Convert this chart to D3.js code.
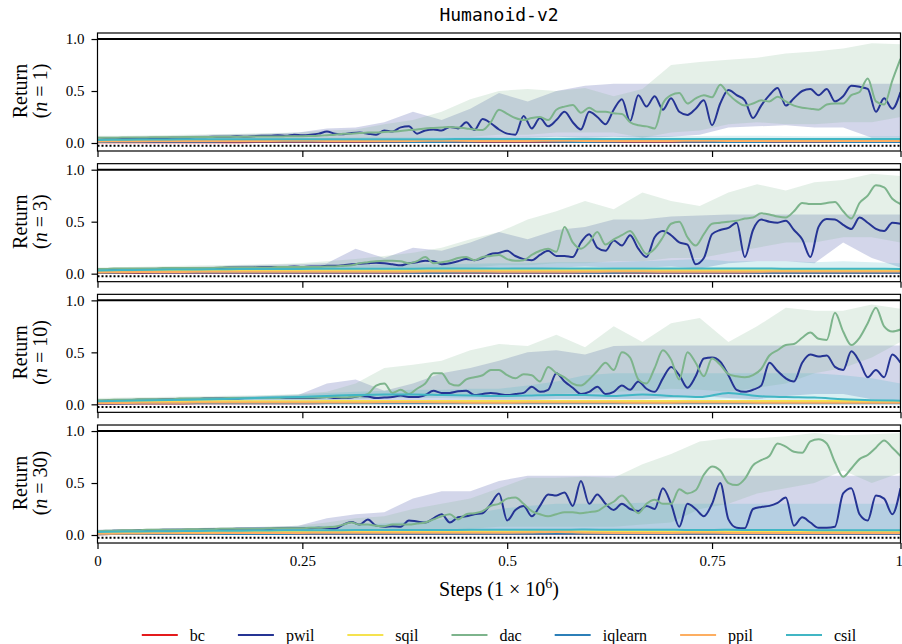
<!DOCTYPE html>
<html>
<head>
<meta charset="utf-8">
<script src="https://cdn.jsdelivr.net/npm/d3@7"></script>
<style>
  body { margin: 0; background: #fff; }
  svg { display: block; }
</style>
</head>
<body>
<div id="chart"></div>
<script>
// ---- data ----
var methods = ["bc", "pwil", "sqil", "dac", "iqlearn", "ppil", "csil"];
var methodColors = ["#e41a1c", "#253494", "#f5e24f", "#7db48c", "#2c7fb8", "#fdae61", "#41b6c4"];
var demoCounts = ["1", "3", "10", "30"];
var xTickValues = [0, 0.25, 0.5, 0.75, 0.98];
var xTickLabels = ["0", "0.25", "0.5", "0.75", "1"];
var yTickValues = [0, 0.5, 1];
var expertReturn = 1.0;
var randomReturn = -0.026;

// x grids: means of pwil / dac every 0.01, everything else every 0.035
var fineSteps = d3.range(99).map(function(i) { return i / 100; });
var coarseSteps = d3.range(29).map(function(i) { return i * 0.035; });

// one row per panel (n = 1, 3, 10, 30)
var pwilMean = [
  [0.03,0.035,0.035,0.04,0.04,0.04,0.045,0.045,0.045,0.05,0.05,0.05,0.055,0.055,0.06,0.06,0.06,0.065,0.06,0.065,0.07,0.07,0.075,0.07,0.08,0.075,
   0.08,0.09,0.11,0.09,0.085,0.095,0.1,0.09,0.08,0.12,0.11,0.15,0.16,0.09,0.12,0.13,0.12,0.155,0.14,0.2,0.125,0.23,0.19,0.13,
   0.09,0.08,0.26,0.14,0.24,0.16,0.22,0.3,0.2,0.13,0.3,0.25,0.18,0.32,0.42,0.21,0.46,0.35,0.45,0.32,0.43,0.3,0.27,0.33,0.41,
   0.17,0.38,0.51,0.46,0.41,0.24,0.36,0.46,0.53,0.36,0.43,0.5,0.52,0.46,0.52,0.4,0.45,0.55,0.54,0.52,0.3,0.43,0.33,0.49],
  [0.03,0.035,0.035,0.04,0.04,0.04,0.045,0.045,0.045,0.05,0.05,0.05,0.05,0.055,0.055,0.055,0.06,0.06,0.06,0.06,0.065,0.065,0.065,0.065,0.07,0.065,
   0.07,0.07,0.075,0.075,0.08,0.09,0.095,0.1,0.105,0.1,0.09,0.08,0.1,0.11,0.125,0.12,0.09,0.1,0.12,0.14,0.13,0.15,0.19,0.2,
   0.22,0.17,0.14,0.13,0.18,0.22,0.17,0.17,0.16,0.3,0.38,0.25,0.22,0.32,0.27,0.37,0.24,0.16,0.35,0.41,0.37,0.3,0.28,0.09,0.15,
   0.38,0.42,0.44,0.49,0.16,0.42,0.52,0.5,0.49,0.51,0.42,0.33,0.16,0.45,0.525,0.52,0.47,0.43,0.54,0.49,0.43,0.41,0.49,0.48],
  [0.03,0.035,0.04,0.04,0.04,0.045,0.045,0.045,0.05,0.05,0.05,0.05,0.05,0.055,0.055,0.055,0.055,0.055,0.06,0.06,0.06,0.06,0.06,0.06,0.06,0.06,
   0.06,0.065,0.07,0.06,0.06,0.065,0.08,0.075,0.06,0.065,0.07,0.085,0.07,0.07,0.09,0.13,0.11,0.11,0.125,0.13,0.09,0.1,0.11,0.1,
   0.09,0.1,0.11,0.17,0.12,0.14,0.3,0.22,0.16,0.1,0.12,0.17,0.1,0.12,0.18,0.14,0.22,0.15,0.12,0.25,0.36,0.28,0.16,0.27,0.44,
   0.45,0.41,0.28,0.14,0.12,0.14,0.18,0.4,0.32,0.25,0.22,0.4,0.48,0.46,0.47,0.36,0.33,0.51,0.41,0.26,0.33,0.26,0.48,0.4],
  [0.03,0.035,0.04,0.04,0.04,0.045,0.045,0.045,0.05,0.05,0.05,0.05,0.05,0.055,0.055,0.055,0.055,0.06,0.06,0.06,0.06,0.06,0.065,0.065,0.065,0.065,
   0.065,0.07,0.065,0.06,0.1,0.125,0.1,0.15,0.09,0.08,0.085,0.08,0.14,0.13,0.12,0.16,0.2,0.12,0.17,0.18,0.2,0.21,0.3,0.4,
   0.14,0.24,0.28,0.18,0.28,0.39,0.38,0.41,0.28,0.52,0.3,0.39,0.3,0.24,0.3,0.25,0.23,0.28,0.25,0.45,0.3,0.08,0.3,0.25,0.18,
   0.3,0.5,0.15,0.07,0.065,0.25,0.27,0.28,0.31,0.36,0.09,0.17,0.12,0.07,0.07,0.08,0.4,0.45,0.2,0.14,0.38,0.35,0.2,0.45]
];

var dacMean = [
  [0.05,0.05,0.05,0.052,0.052,0.054,0.054,0.055,0.055,0.056,0.056,0.057,0.058,0.058,0.058,0.06,0.06,0.06,0.06,0.062,0.062,0.063,0.063,0.064,0.065,0.065,
   0.067,0.07,0.075,0.08,0.09,0.09,0.095,0.1,0.1,0.105,0.11,0.115,0.125,0.13,0.14,0.145,0.15,0.155,0.15,0.14,0.13,0.125,0.2,0.32,
   0.28,0.24,0.22,0.24,0.25,0.22,0.32,0.35,0.365,0.29,0.34,0.3,0.3,0.285,0.28,0.2,0.17,0.16,0.14,0.38,0.46,0.48,0.38,0.43,0.46,
   0.44,0.56,0.47,0.4,0.36,0.38,0.41,0.4,0.445,0.4,0.36,0.34,0.33,0.32,0.37,0.38,0.38,0.46,0.49,0.62,0.4,0.37,0.6,0.81],
  [0.045,0.045,0.05,0.05,0.05,0.05,0.05,0.05,0.055,0.055,0.055,0.055,0.055,0.055,0.055,0.06,0.06,0.06,0.06,0.06,0.06,0.06,0.065,0.065,0.065,0.065,
   0.065,0.065,0.07,0.07,0.075,0.08,0.1,0.11,0.12,0.125,0.125,0.12,0.1,0.12,0.16,0.1,0.11,0.125,0.15,0.16,0.13,0.16,0.17,0.18,
   0.14,0.125,0.13,0.18,0.22,0.24,0.21,0.45,0.3,0.24,0.3,0.4,0.28,0.33,0.37,0.41,0.3,0.19,0.24,0.35,0.48,0.5,0.35,0.27,0.38,
   0.48,0.49,0.5,0.51,0.53,0.54,0.58,0.57,0.55,0.54,0.6,0.68,0.67,0.67,0.68,0.69,0.6,0.53,0.68,0.75,0.85,0.83,0.72,0.67],
  [0.04,0.04,0.045,0.045,0.045,0.05,0.05,0.05,0.05,0.05,0.055,0.055,0.055,0.055,0.055,0.055,0.06,0.06,0.06,0.06,0.06,0.06,0.06,0.065,0.065,0.065,
   0.065,0.065,0.07,0.07,0.065,0.07,0.08,0.1,0.18,0.2,0.11,0.14,0.1,0.15,0.2,0.3,0.3,0.2,0.18,0.24,0.26,0.28,0.33,0.33,
   0.28,0.25,0.29,0.28,0.22,0.36,0.3,0.26,0.2,0.18,0.24,0.32,0.4,0.33,0.5,0.45,0.24,0.2,0.35,0.52,0.43,0.24,0.5,0.4,0.27,
   0.44,0.38,0.29,0.27,0.26,0.28,0.34,0.47,0.52,0.57,0.58,0.64,0.69,0.63,0.62,0.88,0.7,0.57,0.64,0.78,0.93,0.75,0.7,0.72],
  [0.035,0.04,0.04,0.045,0.045,0.045,0.05,0.05,0.05,0.05,0.05,0.055,0.055,0.055,0.055,0.06,0.06,0.06,0.06,0.06,0.06,0.065,0.065,0.065,0.065,0.065,
   0.07,0.07,0.075,0.08,0.1,0.12,0.1,0.1,0.09,0.085,0.1,0.1,0.1,0.11,0.12,0.15,0.18,0.2,0.15,0.2,0.21,0.23,0.28,0.3,
   0.35,0.36,0.3,0.23,0.2,0.18,0.2,0.22,0.22,0.21,0.22,0.23,0.28,0.32,0.38,0.3,0.21,0.3,0.34,0.3,0.3,0.44,0.4,0.43,0.58,
   0.66,0.62,0.5,0.48,0.54,0.67,0.72,0.76,0.88,0.85,0.8,0.79,0.9,0.92,0.88,0.7,0.56,0.64,0.73,0.77,0.84,0.91,0.84,0.76]
];

var pwilHi = [
  [0.06,0.06,0.065,0.07,0.08,0.085,0.09,0.1,0.14,0.15,0.2,0.3,0.22,0.33,0.48,0.4,0.5,0.55,0.57,0.57,0.57,0.57,0.57,0.57,0.57,0.57,0.57,0.57,0.57],
  [0.05,0.055,0.06,0.065,0.07,0.08,0.085,0.09,0.1,0.24,0.15,0.25,0.22,0.3,0.4,0.33,0.42,0.45,0.52,0.52,0.55,0.56,0.57,0.57,0.57,0.57,0.57,0.57,0.57],
  [0.05,0.055,0.06,0.065,0.07,0.075,0.08,0.09,0.2,0.24,0.13,0.2,0.3,0.35,0.42,0.5,0.52,0.48,0.56,0.565,0.565,0.565,0.565,0.565,0.565,0.565,0.565,0.565,0.565],
  [0.05,0.055,0.06,0.065,0.07,0.075,0.08,0.09,0.16,0.2,0.22,0.35,0.42,0.42,0.52,0.57,0.57,0.57,0.57,0.57,0.57,0.57,0.57,0.57,0.57,0.57,0.57,0.57,0.57]
];
var pwilLo = [
  [0.01,0.015,0.02,0.02,0.025,0.025,0.03,0.03,0.03,0.03,0.035,0.04,0.04,0.045,0.05,0.05,0.06,0.05,0.06,0.05,0.06,0.08,0.15,0.16,0.17,0.15,0.15,0.05,0.05],
  [0.01,0.015,0.02,0.02,0.025,0.025,0.03,0.03,0.035,0.04,0.04,0.04,0.04,0.05,0.06,0.05,0.06,0.07,0.06,0.06,0.07,0.05,0.1,0.12,0.12,0.1,0.3,0.15,0.06],
  [0.01,0.015,0.02,0.02,0.025,0.025,0.03,0.03,0.03,0.03,0.035,0.035,0.04,0.04,0.04,0.04,0.05,0.05,0.05,0.05,0.06,0.08,0.06,0.05,0.08,0.1,0.1,0.05,0.04],
  [0.01,0.015,0.02,0.02,0.02,0.025,0.025,0.03,0.03,0.03,0.03,0.03,0.035,0.035,0.04,0.04,0.04,0.04,0.04,0.04,0.03,0.03,0.03,0.03,0.03,0.03,0.03,0.03,0.03]
];
var dacHi = [
  [0.07,0.07,0.075,0.08,0.085,0.09,0.095,0.1,0.12,0.13,0.18,0.22,0.3,0.42,0.5,0.52,0.5,0.53,0.45,0.52,0.75,0.78,0.8,0.82,0.86,0.88,0.91,0.96,0.95],
  [0.06,0.065,0.07,0.075,0.08,0.085,0.09,0.1,0.12,0.14,0.17,0.2,0.25,0.33,0.4,0.52,0.6,0.7,0.62,0.78,0.7,0.65,0.78,0.86,0.8,0.88,0.9,0.96,0.94],
  [0.06,0.065,0.07,0.075,0.08,0.085,0.09,0.1,0.12,0.2,0.35,0.38,0.42,0.52,0.58,0.56,0.67,0.55,0.75,0.6,0.78,0.83,0.6,0.75,0.93,0.9,0.9,0.96,0.92],
  [0.05,0.055,0.06,0.065,0.07,0.075,0.08,0.09,0.12,0.16,0.18,0.25,0.3,0.35,0.45,0.55,0.55,0.56,0.55,0.68,0.78,0.9,0.93,0.93,0.95,0.98,0.96,0.97,0.98]
];
var dacLo = [
  [0.03,0.03,0.03,0.035,0.035,0.035,0.04,0.04,0.04,0.04,0.05,0.05,0.06,0.06,0.08,0.08,0.1,0.1,0.1,0.05,0.1,0.12,0.18,0.2,0.18,0.18,0.2,0.2,0.25],
  [0.03,0.03,0.03,0.035,0.035,0.035,0.04,0.04,0.04,0.04,0.05,0.05,0.05,0.06,0.08,0.08,0.1,0.1,0.12,0.12,0.15,0.15,0.2,0.25,0.3,0.3,0.35,0.35,0.3],
  [0.03,0.03,0.03,0.035,0.035,0.035,0.04,0.04,0.04,0.05,0.06,0.07,0.08,0.09,0.1,0.1,0.1,0.11,0.12,0.13,0.15,0.14,0.12,0.16,0.2,0.3,0.35,0.45,0.6],
  [0.02,0.02,0.025,0.025,0.03,0.03,0.03,0.035,0.035,0.04,0.04,0.045,0.05,0.06,0.08,0.08,0.08,0.08,0.08,0.1,0.12,0.25,0.3,0.4,0.45,0.5,0.62,0.5,0.6]
];

var csilMean = [
  [0.03,0.032,0.034,0.035,0.035,0.035,0.036,0.036,0.036,0.036,0.037,0.037,0.037,0.038,0.038,0.038,0.038,0.038,0.038,0.038,0.038,0.038,0.038,0.038,0.038,0.038,0.038,0.038,0.038],
  [0.03,0.035,0.038,0.04,0.042,0.044,0.045,0.046,0.047,0.048,0.048,0.048,0.049,0.049,0.05,0.05,0.05,0.05,0.05,0.05,0.05,0.05,0.05,0.05,0.048,0.048,0.047,0.047,0.046],
  [0.03,0.035,0.04,0.045,0.05,0.055,0.065,0.07,0.08,0.09,0.095,0.095,0.09,0.085,0.08,0.085,0.09,0.09,0.08,0.095,0.08,0.07,0.11,0.08,0.07,0.065,0.05,0.04,0.035],
  [0.03,0.033,0.036,0.038,0.04,0.042,0.044,0.045,0.046,0.047,0.048,0.048,0.048,0.05,0.05,0.05,0.05,0.052,0.05,0.05,0.05,0.048,0.05,0.048,0.048,0.046,0.046,0.045,0.045]
];
var csilHi = [
  [0.045,0.048,0.05,0.05,0.05,0.05,0.05,0.05,0.05,0.052,0.055,0.056,0.058,0.06,0.06,0.062,0.065,0.065,0.066,0.068,0.068,0.068,0.07,0.07,0.068,0.066,0.066,0.066,0.066],
  [0.045,0.05,0.055,0.06,0.062,0.065,0.068,0.07,0.075,0.08,0.085,0.09,0.09,0.095,0.1,0.1,0.11,0.11,0.11,0.12,0.13,0.14,0.12,0.12,0.12,0.11,0.12,0.11,0.1],
  [0.045,0.05,0.055,0.06,0.07,0.075,0.085,0.095,0.11,0.12,0.13,0.14,0.14,0.15,0.15,0.18,0.22,0.28,0.3,0.3,0.3,0.3,0.3,0.3,0.3,0.3,0.28,0.25,0.2],
  [0.045,0.05,0.055,0.06,0.065,0.07,0.075,0.08,0.09,0.1,0.11,0.13,0.15,0.2,0.25,0.28,0.3,0.3,0.3,0.31,0.3,0.3,0.3,0.3,0.3,0.3,0.3,0.3,0.3]
];
var csilLo = [
  [0.02,0.02,0.021,0.022,0.022,0.022,0.023,0.023,0.023,0.024,0.024,0.024,0.024,0.025,0.025,0.025,0.025,0.025,0.025,0.025,0.025,0.025,0.025,0.025,0.025,0.025,0.025,0.025,0.025],
  [0.02,0.022,0.024,0.025,0.026,0.027,0.028,0.028,0.029,0.03,0.03,0.03,0.03,0.03,0.03,0.03,0.03,0.03,0.03,0.03,0.03,0.03,0.03,0.03,0.03,0.03,0.03,0.03,0.03],
  [0.02,0.022,0.025,0.03,0.035,0.04,0.045,0.05,0.05,0.055,0.06,0.06,0.06,0.055,0.05,0.05,0.05,0.05,0.05,0.05,0.05,0.04,0.05,0.04,0.04,0.035,0.03,0.025,0.02],
  [0.02,0.022,0.024,0.025,0.026,0.027,0.028,0.028,0.029,0.03,0.03,0.03,0.03,0.03,0.03,0.03,0.03,0.03,0.03,0.03,0.03,0.03,0.03,0.03,0.03,0.03,0.03,0.03,0.03]
];

var sqilMean = [
  [0.02,0.022,0.024,0.025,0.025,0.026,0.026,0.027,0.027,0.028,0.028,0.028,0.028,0.029,0.028,0.028,0.029,0.028,0.028,0.028,0.029,0.028,0.028,0.028,0.028,0.028,0.028,0.028,0.028],
  [0.02,0.024,0.026,0.028,0.03,0.03,0.031,0.031,0.032,0.032,0.032,0.033,0.033,0.033,0.034,0.034,0.034,0.034,0.034,0.034,0.033,0.033,0.033,0.033,0.033,0.033,0.033,0.033,0.033],
  [0.02,0.024,0.026,0.028,0.029,0.03,0.03,0.03,0.031,0.031,0.031,0.032,0.032,0.032,0.032,0.032,0.033,0.033,0.032,0.032,0.032,0.032,0.032,0.032,0.032,0.032,0.032,0.032,0.032],
  [0.02,0.024,0.026,0.028,0.03,0.03,0.031,0.031,0.032,0.032,0.033,0.033,0.033,0.034,0.034,0.036,0.045,0.034,0.033,0.033,0.033,0.034,0.033,0.033,0.033,0.033,0.033,0.033,0.033]
];
var ppilMean = [
  [0.015,0.017,0.018,0.019,0.02,0.02,0.02,0.021,0.02,0.02,0.019,0.02,0.021,0.02,0.02,0.02,0.021,0.02,0.02,0.02,0.02,0.021,0.02,0.02,0.02,0.02,0.02,0.02,0.02],
  [0.012,0.014,0.016,0.017,0.018,0.018,0.018,0.019,0.019,0.018,0.018,0.019,0.02,0.02,0.019,0.018,0.018,0.019,0.02,0.02,0.019,0.018,0.018,0.019,0.02,0.02,0.02,0.02,0.02],
  [0.012,0.014,0.015,0.016,0.017,0.017,0.018,0.018,0.018,0.018,0.019,0.02,0.018,0.016,0.016,0.017,0.018,0.018,0.017,0.016,0.016,0.017,0.017,0.016,0.016,0.016,0.016,0.016,0.016],
  [0.012,0.014,0.016,0.017,0.018,0.019,0.02,0.02,0.021,0.021,0.022,0.022,0.022,0.022,0.022,0.024,0.03,0.022,0.02,0.02,0.02,0.021,0.02,0.02,0.02,0.02,0.02,0.02,0.02]
];
var iqlearnMean = [
  [0.01,0.012,0.012,0.013,0.013,0.014,0.014,0.014,0.014,0.014,0.012,0.01,0.01,0.012,0.015,0.015,0.012,0.01,0.012,0.015,0.014,0.012,0.01,0.01,0.012,0.012,0.01,0.01,0.01],
  [0.008,0.01,0.011,0.011,0.012,0.012,0.012,0.012,0.012,0.012,0.011,0.01,0.01,0.011,0.012,0.012,0.011,0.01,0.01,0.011,0.012,0.012,0.011,0.01,0.01,0.01,0.01,0.01,0.01],
  [0.008,0.009,0.01,0.01,0.01,0.01,0.01,0.01,0.01,0.01,0.01,0.01,0.01,0.01,0.01,0.01,0.01,0.01,0.01,0.01,0.01,0.01,0.01,0.01,0.01,0.01,0.01,0.01,0.01],
  [0.008,0.009,0.01,0.01,0.01,0.01,0.01,0.011,0.011,0.011,0.011,0.011,0.011,0.011,0.011,0.011,0.011,0.011,0.011,0.011,0.011,0.011,0.011,0.011,0.011,0.011,0.011,0.011,0.011]
];
var bcMean = [
  [0.006,0.007,0.008,0.008,0.008,0.008,0.009,0.009,0.009,0.009,0.009,0.009,0.009,0.009,0.009,0.009,0.009,0.009,0.009,0.009,0.009,0.009,0.009,0.009,0.009,0.009,0.009,0.009,0.009],
  [0.006,0.007,0.008,0.008,0.008,0.008,0.009,0.009,0.009,0.009,0.009,0.009,0.009,0.009,0.009,0.009,0.009,0.009,0.009,0.009,0.009,0.009,0.009,0.009,0.009,0.009,0.009,0.009,0.009],
  [0.006,0.007,0.008,0.009,0.01,0.01,0.011,0.011,0.012,0.012,0.012,0.013,0.012,0.012,0.012,0.012,0.012,0.012,0.012,0.012,0.012,0.012,0.012,0.012,0.012,0.012,0.012,0.012,0.012],
  [0.008,0.009,0.01,0.011,0.012,0.012,0.013,0.013,0.013,0.013,0.013,0.013,0.013,0.013,0.013,0.013,0.013,0.013,0.013,0.013,0.013,0.013,0.013,0.013,0.013,0.013,0.013,0.013,0.013]
];

// ---- layout ----
var width = 902, height = 644;
var left = 97.5, right = 900.5;
var firstTop = 33, panelStep = 130.67, panelH = 118;
var serif = "'Liberation Serif', 'DejaVu Serif', serif";
var color = d3.scaleOrdinal().domain(methods).range(methodColors);

var svg = d3.select("#chart")
    .append("svg")
    .attr("width", width)
    .attr("height", height);

var x = d3.scaleLinear().domain([0, 0.98]).range([left, right]);

svg.append("text")
    .attr("x", (left + right) / 2)
    .attr("y", 21)
    .attr("text-anchor", "middle")
    .style("font-family", "'DejaVu Sans Mono', monospace")
    .style("font-size", "18px")
    .text("Humanoid-v2");

function rows(xs, ys) {
  return xs.map(function(v, i) { return {x: v, y: ys[i]}; });
}
function bandRows(xs, lo, hi) {
  return xs.map(function(v, i) { return {x: v, lo: lo[i], hi: hi[i]}; });
}

demoCounts.forEach(function(n, p) {
  var top = firstTop + p * panelStep;
  var y = d3.scaleLinear().domain([-0.077, 1.058]).range([top + panelH, top]);

  svg.append("clipPath").attr("id", "clip" + p)
    .append("rect")
    .attr("x", left).attr("y", top)
    .attr("width", right - left).attr("height", panelH);

  var plot = svg.append("g").attr("clip-path", "url(#clip" + p + ")");

  var area = d3.area()
      .x(function(d) { return x(d.x); })
      .y0(function(d) { return y(d.lo); })
      .y1(function(d) { return y(d.hi); });
  var line = d3.line()
      .curve(d3.curveMonotoneX)
      .x(function(d) { return x(d.x); })
      .y(function(d) { return y(d.y); });

  // expert and random reference lines
  plot.append("line")
      .attr("x1", left).attr("x2", right)
      .attr("y1", y(expertReturn)).attr("y2", y(expertReturn))
      .style("stroke", "#000").style("stroke-width", 2);
  plot.append("line")
      .attr("x1", left).attr("x2", right)
      .attr("y1", y(randomReturn)).attr("y2", y(randomReturn))
      .style("stroke", "#000").style("stroke-width", 2)
      .style("stroke-dasharray", "2,2");

  // bands
  var bands = [
    {name: "pwil", d: bandRows(coarseSteps, pwilLo[p], pwilHi[p])},
    {name: "dac", d: bandRows(coarseSteps, dacLo[p], dacHi[p])},
    {name: "csil", d: bandRows(coarseSteps, csilLo[p], csilHi[p])}
  ];
  plot.selectAll("path.band")
      .data(bands)
      .enter()
      .append("path")
      .attr("class", "band")
      .attr("d", function(b) { return area(b.d); })
      .style("fill", function(b) { return color(b.name); })
      .style("fill-opacity", 0.2)
      .style("stroke", "none");

  // mean lines, in legend order
  var series = [
    {name: "bc", d: rows(coarseSteps, bcMean[p])},
    {name: "pwil", d: rows(fineSteps, pwilMean[p])},
    {name: "sqil", d: rows(coarseSteps, sqilMean[p])},
    {name: "dac", d: rows(fineSteps, dacMean[p])},
    {name: "iqlearn", d: rows(coarseSteps, iqlearnMean[p])},
    {name: "ppil", d: rows(coarseSteps, ppilMean[p])},
    {name: "csil", d: rows(coarseSteps, csilMean[p])}
  ];
  plot.selectAll("path.mean")
      .data(series)
      .enter()
      .append("path")
      .attr("class", "mean")
      .attr("d", function(s) { return line(s.d); })
      .style("fill", "none")
      .style("stroke", function(s) { return color(s.name); })
      .style("stroke-width", 2)
      .style("stroke-linejoin", "round");

  // frame
  svg.append("rect")
      .attr("x", left).attr("y", top)
      .attr("width", right - left).attr("height", panelH)
      .style("fill", "none").style("stroke", "#000").style("stroke-width", 1.2);

  // axes
  var yAxis = svg.append("g")
      .attr("transform", "translate(" + left + ",0)")
      .call(d3.axisLeft(y).tickValues(yTickValues).tickFormat(d3.format(".1f")).tickSize(6).tickPadding(7));
  yAxis.select(".domain").remove();
  yAxis.selectAll("text").style("font-family", serif).style("font-size", "15px").style("fill", "#000");
  yAxis.selectAll("line").style("stroke-width", 1.2);

  var last = p === demoCounts.length - 1;
  var xAxis = svg.append("g")
      .attr("transform", "translate(0," + (top + panelH) + ")")
      .call(d3.axisBottom(x).tickValues(xTickValues)
        .tickFormat(function(d, i) { return last ? xTickLabels[i] : ""; })
        .tickSize(6).tickPadding(6));
  xAxis.select(".domain").remove();
  xAxis.selectAll("text").style("font-family", serif).style("font-size", "15px").style("fill", "#000");
  // the last label sits on the right edge; keep it inside the page
  xAxis.selectAll(".tick text").filter(function(d, i) { return i === xTickValues.length - 1; })
      .attr("text-anchor", "end").attr("dx", 2);
  xAxis.selectAll("line").style("stroke-width", 1.2);

  // y label
  var mid = y(0.5);
  svg.append("text")
      .attr("transform", "translate(27," + mid + ") rotate(-90)")
      .attr("text-anchor", "middle")
      .style("font-family", serif).style("font-size", "20px")
      .text("Return");
  var lab = svg.append("text")
      .attr("transform", "translate(47," + mid + ") rotate(-90)")
      .attr("text-anchor", "middle")
      .style("font-family", serif).style("font-size", "20px");
  lab.append("tspan").text("(");
  lab.append("tspan").style("font-style", "italic").text("n");
  lab.append("tspan").text(" = " + n + ")");
});

// x title
var xt = svg.append("text")
    .attr("x", (left + right) / 2)
    .attr("y", 596)
    .attr("text-anchor", "middle")
    .style("font-family", serif).style("font-size", "20px");
xt.append("tspan").text("Steps (1 \u00d7 10");
xt.append("tspan").attr("dy", -8).style("font-size", "14px").text("6");
xt.append("tspan").attr("dy", 8).text(")");

// legend
var legend = svg.append("g");
var cursor = 0;
methods.forEach(function(m) {
  var item = legend.append("g").attr("transform", "translate(" + cursor + ",0)");
  item.append("line")
      .attr("x1", 0).attr("x2", 36).attr("y1", 635).attr("y2", 635)
      .style("stroke", color(m)).style("stroke-width", 2);
  var t = item.append("text")
      .attr("x", 48).attr("y", 641)
      .style("font-family", serif).style("font-size", "16px")
      .text(m);
  cursor += 48 + t.node().getComputedTextLength() + 33;
});
var legendWidth = cursor - 33;
legend.attr("transform", "translate(" + ((left + right) / 2 - legendWidth / 2) + ",0)");
</script>
</body>
</html>
